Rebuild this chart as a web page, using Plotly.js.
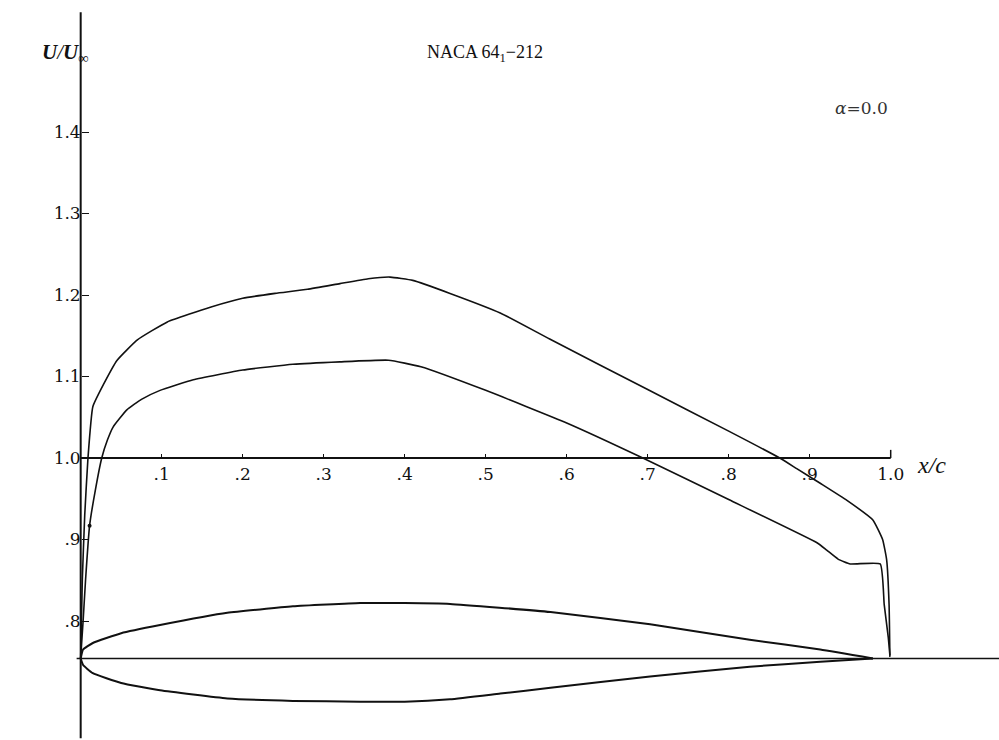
<!DOCTYPE html>
<html>
<head>
<meta charset="utf-8">
<script src="https://cdn.plot.ly/plotly-3.0.1.min.js"></script>
<style>html,body{margin:0;padding:0;background:#fff;}#chart{width:999px;height:740px;}</style>
</head>
<body>
<div id="chart"></div>
<script>
// Upper-surface velocity distribution U/U∞ vs x/c
const upperVelX = [0, 0.002, 0.005, 0.009, 0.015, 0.028, 0.045, 0.07, 0.107, 0.16, 0.2, 0.24, 0.28, 0.32, 0.355, 0.382, 0.41, 0.456, 0.518, 0.579, 0.7, 0.8, 0.863, 0.884, 0.913, 0.946, 0.978, 0.99, 0.995, 0.998, 0.999];
const upperVelY = [0.755, 0.85, 0.93, 1.0, 1.063, 1.09, 1.12, 1.145, 1.167, 1.185, 1.196, 1.202, 1.207, 1.214, 1.22, 1.222, 1.218, 1.202, 1.178, 1.146, 1.084, 1.033, 1.0, 0.987, 0.969, 0.948, 0.924, 0.9, 0.875, 0.82, 0.756];
// Lower-surface velocity distribution
const lowerVelX = [0, 0.003, 0.006, 0.011, 0.018, 0.026, 0.033, 0.04, 0.057, 0.075, 0.098, 0.139, 0.2, 0.262, 0.32, 0.38, 0.42, 0.5, 0.6, 0.694, 0.8, 0.909, 0.921, 0.935, 0.95, 0.987, 0.992, 0.997, 0.999];
const lowerVelY = [0.755, 0.8, 0.85, 0.917, 0.96, 1.0, 1.022, 1.038, 1.059, 1.072, 1.083, 1.096, 1.108, 1.115, 1.118, 1.12, 1.112, 1.083, 1.043, 1.0, 0.949, 0.896, 0.887, 0.876, 0.87, 0.87, 0.82, 0.78, 0.758];
// Airfoil section outline (drawn on the same scale, chord line at y = chordY)
const chordY = 0.754;
const chordX = [-0.005, 1.134];
const foilUpperX = [0, 0.003, 0.015, 0.05, 0.098, 0.181, 0.262, 0.345, 0.40, 0.456, 0.58, 0.703, 0.826, 0.913, 0.978];
const foilUpperY = [0.754, 0.765, 0.773, 0.785, 0.795, 0.810, 0.818, 0.822, 0.822, 0.821, 0.811, 0.796, 0.777, 0.765, 0.754];
const foilLowerX = [0, 0.003, 0.015, 0.05, 0.098, 0.181, 0.262, 0.345, 0.40, 0.456, 0.518, 0.58, 0.703, 0.826, 0.913, 0.978];
const foilLowerY = [0.754, 0.746, 0.736, 0.724, 0.715, 0.705, 0.702, 0.701, 0.701, 0.704, 0.711, 0.718, 0.732, 0.744, 0.75, 0.754];
// Axis ticks
const xTickVals = [0.1, 0.2, 0.3, 0.4, 0.5, 0.6, 0.7, 0.8, 0.9, 1.0];
const xTickText = [".1", ".2", ".3", ".4", ".5", ".6", ".7", ".8", ".9", "1.0"];
const yTickVals = [1.4, 1.3, 1.2, 1.1, 1.0, 0.9, 0.8];
const yTickText = ["1.4", "1.3", "1.2", "1.1", "1.0", ".9", ".8"];

const xRange = [-0.0996, 1.1337];
const yRange = [0.654, 1.562];
const W = 999, H = 740;
const px = v => v / W;
const py = v => 1 - v / H;

const lineStyle = (w) => ({color: '#111', width: w, shape: 'spline', smoothing: 0.4});

const traces = [
  {x: upperVelX, y: upperVelY, mode: 'lines', line: lineStyle(1.6), hoverinfo: 'skip'},
  {x: lowerVelX, y: lowerVelY, mode: 'lines', line: lineStyle(1.6), hoverinfo: 'skip'},
  {x: foilUpperX, y: foilUpperY, mode: 'lines', line: lineStyle(2), hoverinfo: 'skip'},
  {x: foilLowerX, y: foilLowerY, mode: 'lines', line: lineStyle(2), hoverinfo: 'skip'},
  {x: chordX, y: [chordY, chordY], mode: 'lines', line: {color: '#111', width: 1.3}, hoverinfo: 'skip'},
  {x: [lowerVelX[3]], y: [lowerVelY[3]], mode: 'markers', marker: {color: '#111', size: 4}, hoverinfo: 'skip'}
];

const serif = 'DejaVu Serif, Liberation Serif, serif';
const layout = {
  width: W, height: H,
  margin: {l: 0, r: 0, t: 0, b: 0},
  paper_bgcolor: '#fff', plot_bgcolor: '#fff',
  showlegend: false,
  xaxis: {
    range: xRange, showgrid: false, zeroline: false, showline: false,
    anchor: 'free', position: (1.0 - yRange[0]) / (yRange[1] - yRange[0]),
    tickmode: 'array', tickvals: xTickVals, ticktext: xTickText,
    ticks: 'inside', ticklen: 4, tickwidth: 1, tickcolor: '#111',
    ticklabelstandoff: 4,
    tickfont: {family: serif, size: 17, color: '#111'}, fixedrange: true
  },
  yaxis: {
    range: yRange, showgrid: false, zeroline: false, showline: false,
    anchor: 'free', position: (0 - xRange[0]) / (xRange[1] - xRange[0]),
    tickmode: 'array', tickvals: yTickVals, ticktext: yTickText,
    ticks: 'inside', ticklen: 7, tickwidth: 1, tickcolor: '#111',
    tickfont: {family: serif, size: 17, color: '#111'}, fixedrange: true
  },
  shapes: [
    {type: 'line', xref: 'x', yref: 'y', x0: 0, x1: 1.0, y0: 1.0, y1: 1.0, line: {color: '#111', width: 2.2}},
    {type: 'line', xref: 'x', yref: 'y', x0: 0, x1: 0, y0: 0.656, y1: 1.547, line: {color: '#111', width: 2}},
    {type: 'line', xref: 'x', yref: 'y', x0: 1.0, x1: 1.0, y0: 1.0, y1: 1.01, line: {color: '#111', width: 1.5}}
  ],
  annotations: [
    {text: '<i><b>U</b>/<b>U</b></i><sub>∞</sub>', xref: 'paper', yref: 'paper', x: px(40), y: py(38), showarrow: false, font: {family: 'Liberation Serif, serif', size: 21, color: '#111'}},
    {text: 'NACA 64<sub>1</sub>−212', xref: 'paper', yref: 'paper', x: px(485), y: py(40), showarrow: false, font: {family: 'Liberation Serif, serif', size: 18, color: '#111'}},
    {text: '<i>α</i>=0.0', xref: 'paper', yref: 'paper', x: px(890), y: py(96), showarrow: false, font: {family: serif, size: 17, color: '#333'}},
    {text: '<i>x/c</i>', xref: 'paper', yref: 'paper', x: px(948), y: py(465), showarrow: false, font: {family: 'Liberation Serif, serif', size: 24, color: '#111'}}
  ]
};

Plotly.newPlot('chart', traces, layout, {displayModeBar: false, staticPlot: true});
</script>
</body>
</html>
